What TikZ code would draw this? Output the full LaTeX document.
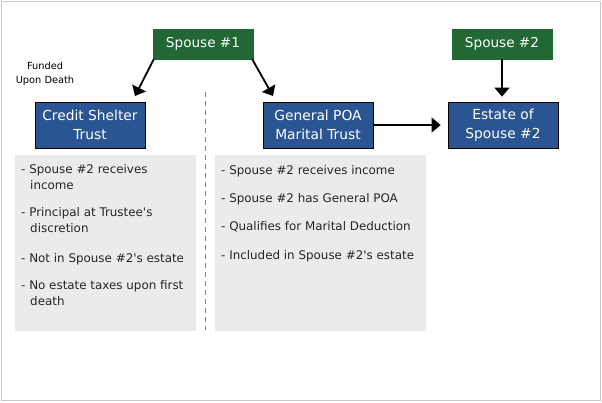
\documentclass[tikz,border=0pt]{standalone}
\usepackage{fontspec}
\setmainfont{DejaVu Sans}
\usetikzlibrary{arrows.meta}
\definecolor{sgreen}{HTML}{216835}
\definecolor{sblue}{HTML}{2B5592}
\definecolor{gbox}{HTML}{EBEBEB}
\definecolor{frame}{HTML}{C8C8C8}
\begin{document}
\begin{tikzpicture}[x=1pt,y=-1pt,
  spouse/.style={fill=sgreen,draw=sgreen,text=white,minimum width=100pt,minimum height=30pt,inner sep=0pt,font=\fontsize{13.6}{15}\selectfont},
  trust/.style={fill=sblue,draw=black,line width=0.8pt,text=white,minimum width=110pt,minimum height=46pt,inner sep=0pt,align=center,font=\fontsize{13.8}{19}\selectfont},
  infobox/.style={fill=gbox,draw=none,inner sep=0pt},
  bullet/.style={anchor=north west,inner sep=0pt,align=left,font=\fontsize{11.9}{16}\selectfont,text=black!85},
  arr/.style={line width=1.8pt,-{Triangle[width=15pt,length=9pt]}}]
\useasboundingbox (0,0) rectangle (602,402);
\draw[frame,line width=1pt] (1.5,1.5) rectangle (600.5,400.5);
\node[spouse] (s1) at (203,44) {Spouse \#1};
\node[spouse] (s2) at (502,44) {Spouse \#2};
\node[trust] (cst) at (90,125) {Credit Shelter\\Trust};
\node[trust] (gpoa) at (318,125) {General POA\\Marital Trust};
\node[trust] (est) at (503,125) {Estate of\\Spouse \#2};
\node[infobox,minimum width=181pt,minimum height=176pt] (lb) at (105.5,243) {};
\node[infobox,minimum width=211pt,minimum height=176pt] (rb) at (320.5,243) {};
\coordinate (dtop) at (205,92);
\coordinate (dbot) at (205,330);
\draw[gray,dashed,dash pattern=on 5pt off 4pt,line width=0.8pt] (dtop) -- (dbot);
\node[align=center,inner sep=0pt,font=\fontsize{9.8}{14}\selectfont] (fund) at (45,74) {Funded\\Upon Death};
\coordinate (a1) at (135,96);
\coordinate (a2) at (273,96);
\draw[arr] ([xshift=1pt]s1.south west) -- (a1);
\draw[arr] ([xshift=-1pt]s1.south east) -- (a2);
\draw[arr,shorten >=5pt] (s2.south) -- (s2.south |- est.north);
\draw[arr,shorten >=7pt] (gpoa.east) -- (est.west);
\node[bullet] (l1) at (21,164) {- Spouse \#2 receives\\\hspace*{9pt}income};
\node[bullet] (l2) at (21,207) {- Principal at Trustee\textquotesingle s\\\hspace*{9pt}discretion};
\node[bullet] (l3) at (21,253) {- Not in Spouse \#2\textquotesingle s estate};
\node[bullet] (l4) at (21,280) {- No estate taxes upon first\\\hspace*{9pt}death};
\node[bullet] (r1) at (221,165) {- Spouse \#2 receives income};
\node[bullet] (r2) at (221,193) {- Spouse \#2 has General POA};
\node[bullet] (r3) at (221,221) {- Qualifies for Marital Deduction};
\node[bullet] (r4) at (221,250) {- Included in Spouse \#2\textquotesingle s estate};
\end{tikzpicture}
\end{document}
